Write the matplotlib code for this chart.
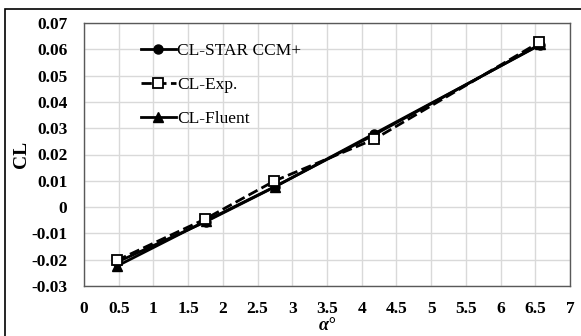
import matplotlib
matplotlib.use("Agg")
import matplotlib.pyplot as plt
from matplotlib.patches import Rectangle

alpha_star = [0.47, 1.75, 2.75, 4.18, 6.57]
cl_star = [-0.021, -0.0056, 0.0077, 0.0279, 0.0617]
alpha_exp = [0.47, 1.74, 2.74, 4.18, 6.56]
cl_exp = [-0.0203, -0.0046, 0.0099, 0.0258, 0.0627]
alpha_fluent = [0.47, 1.75, 2.75, 4.18, 6.57]
cl_fluent = [-0.0225, -0.0053, 0.0078, 0.0275, 0.0619]

xticks = [0, 0.5, 1, 1.5, 2, 2.5, 3, 3.5, 4, 4.5, 5, 5.5, 6, 6.5, 7]
yticks = [-0.03, -0.02, -0.01, 0, 0.01, 0.02, 0.03, 0.04, 0.05, 0.06, 0.07]
xtick_labels = ["0", "0.5", "1", "1.5", "2", "2.5", "3", "3.5", "4", "4.5", "5", "5.5", "6", "6.5", "7"]
ytick_labels = ["-0.03", "-0.02", "-0.01", "0", "0.01", "0.02", "0.03", "0.04", "0.05", "0.06", "0.07"]

plt.rcParams['font.family'] = ['Liberation Serif', 'DejaVu Serif']

W, H = 581, 336
fig = plt.figure(figsize=(W/100, H/100), dpi=100)
ax = fig.add_axes([84/W, 1-286/H, (570-84)/W, (286-23)/H])

ax.plot(alpha_star, cl_star, '-', color='black', lw=2.0, marker='o', ms=6.5, label='CL-STAR CCM+', zorder=3)
ax.plot(alpha_exp, cl_exp, '--', color='black', lw=2.0, marker='s', ms=6.5, mfc='white', mec='black', mew=1.3, label='CL-Exp.', zorder=4)
ax.plot(alpha_fluent, cl_fluent, '-', color='black', lw=2.0, marker='^', ms=6.5, label='CL-Fluent', zorder=2)

ax.set_xlim(0, 7)
ax.set_ylim(-0.03, 0.07)
ax.set_xticks(xticks)
ax.set_xticklabels(xtick_labels)
ax.set_yticks(yticks)
ax.set_yticklabels(ytick_labels)
ax.grid(True, color='#d9d9d9', lw=1)
ax.set_axisbelow(True)
ax.tick_params(axis='y', length=0, pad=12, labelsize=12.5)
ax.tick_params(axis='x', length=0, pad=11, labelsize=12.5)
for lbl in ax.get_xticklabels() + ax.get_yticklabels():
    lbl.set_fontweight('bold')
for s in ax.spines.values():
    s.set_color('#595959')
    s.set_linewidth(1.0)

ax.set_ylabel('CL', fontsize=14, fontweight='bold', labelpad=1)
ax.set_xlabel('α°', fontsize=13, fontweight='bold', fontstyle='italic', labelpad=0)

leg = ax.legend(loc='upper left', bbox_to_anchor=(0.085, 0.985), frameon=False,
                fontsize=12.5, handlelength=2.0, handletextpad=0.1, labelspacing=1.05)

fig.patches.append(Rectangle((5/W, -0.1), 1.2, 1 - 9/H + 0.1, transform=fig.transFigure,
                             fill=False, edgecolor='black', lw=1.2))

fig.savefig('out.png', dpi=100)
